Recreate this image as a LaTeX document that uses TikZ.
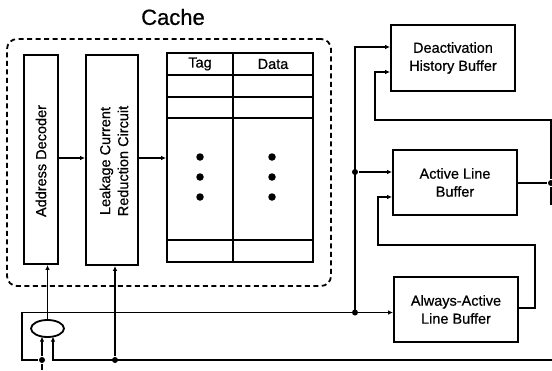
\documentclass[tikz,border=0pt]{standalone}
\usepackage{fontspec}
\setmainfont{Liberation Sans}[FakeBold=0.7]
\usetikzlibrary{arrows.meta,calc,shapes.geometric}
\begin{document}
\begin{tikzpicture}[x=1pt,y=-1pt, line width=1.8pt,
  box/.style={draw, rectangle, inner sep=0pt, line width=1.8pt},
  lbl/.style={inner sep=0pt, align=center, font=\fontsize{14.5}{18}\selectfont},
  arr/.style={-{Latex[length=5pt,width=4.5pt]}},
  jdot/.style={circle, fill, inner sep=0pt, minimum size=6pt},
  bdot/.style={circle, fill, inner sep=0pt, minimum size=7.5pt}]
\useasboundingbox (0,0) rectangle (552,370);

% title and dashed cache frame
\node[inner sep=0pt, font=\fontsize{22}{25}\selectfont] (title) at (173,17) {Cache};
\node[draw, rectangle, dash pattern=on 5pt off 3.5pt, rounded corners=10pt,
      minimum width=324pt, minimum height=247pt, inner sep=0pt] (cache) at (169,162.5) {};

% address decoder
\node[box, minimum width=34pt, minimum height=209pt] (ad) at (41,159.5) {};
\node[lbl, rotate=90] (adt) at (41,161) {Address Decoder};

% leakage current reduction circuit
\node[box, minimum width=52pt, minimum height=210pt] (lcr) at (112,160) {};
\node[lbl, rotate=90] (lcrt) at (114,161) {Leakage Current\\Reduction Circuit};

% array
\node[box, minimum width=146pt, minimum height=209pt] (array) at (240,157.5) {};
\draw (233,53) -- (233,262);
\foreach \yy in {75,97,118,240}
  \draw (array.west |- 0,\yy) -- (array.east |- 0,\yy);
\node[lbl] (tag) at (200,64) {Tag};
\node[lbl] (data) at (273,64) {Data};
\foreach \yy in {157,177,197} {
  \node[bdot] at (200,\yy) {};
  \node[bdot] at (272,\yy) {};
}

\draw[arr] (ad.east |- 0,158) -- (lcr.west |- 0,158);
\draw[arr] (lcr.east |- 0,158) -- (array.west |- 0,158);

% buffers
\node[box, minimum width=124pt, minimum height=66pt] (dhb) at (453,58) {};
\node[lbl] (dhbt) at (dhb.center) {Deactivation\\History Buffer};
\node[box, minimum width=124pt, minimum height=65pt] (alb) at (455,182.5) {};
\node[lbl] (albt) at (alb.center) {Active Line\\Buffer};
\node[box, minimum width=124pt, minimum height=65pt] (aab) at (456,309.5) {};
\node[lbl] (aabt) at (aab.center) {Always-Active\\Line Buffer};

% combiner ellipse
\node[draw, ellipse, minimum width=33pt, minimum height=17pt, inner sep=0pt] (mux) at (47.5,328.5) {};
\draw[arr] (mux.north) -- (mux.north |- ad.south);

% inputs at the bottom
\coordinate (in) at (42,370);
\node[jdot] (j1) at (42,360) {};
\draw (in) -- (j1);
\draw[arr] (j1) -- (42,336.5);
\coordinate (bus1c) at (355,312.5);
\draw (j1) -- (22,360) -- (22,312.5) -- (bus1c);
\node[jdot] (bus1) at (bus1c) {};

\coordinate (rin) at (552,360);
\node[jdot] (j2) at (115,360) {};
\draw[arr] (rin) -- (53,360) -- (53,336.5);
\draw[arr] (j2) -- (j2 |- lcr.south);

% bus to buffers
\coordinate (btop) at (355,47);
\draw[arr] (bus1c) -- (btop) -- (btop -| dhb.west);
\node[jdot] (bus2) at (355,172) {};
\draw[arr] (bus2) -- (bus2 -| alb.west);
\draw[arr] (bus1c) -- (bus1c -| aab.west);

% feedback from active line buffer to deactivation history buffer
\node[jdot] (r2) at (551,183) {};
\draw (alb.east |- r2) -- (r2);
\draw (r2) -- (551,205);
\draw[arr] (r2) -- (551,120) -- (375,120) -- (375,72) -- (dhb.west |- 0,72);

% feedback from always-active buffer to active line buffer
\draw[arr] (aab.east |- 0,308) -- (535,308) -- (535,245) -- (378,245) -- (378,197) -- (alb.west |- 0,197);
\end{tikzpicture}
\end{document}
